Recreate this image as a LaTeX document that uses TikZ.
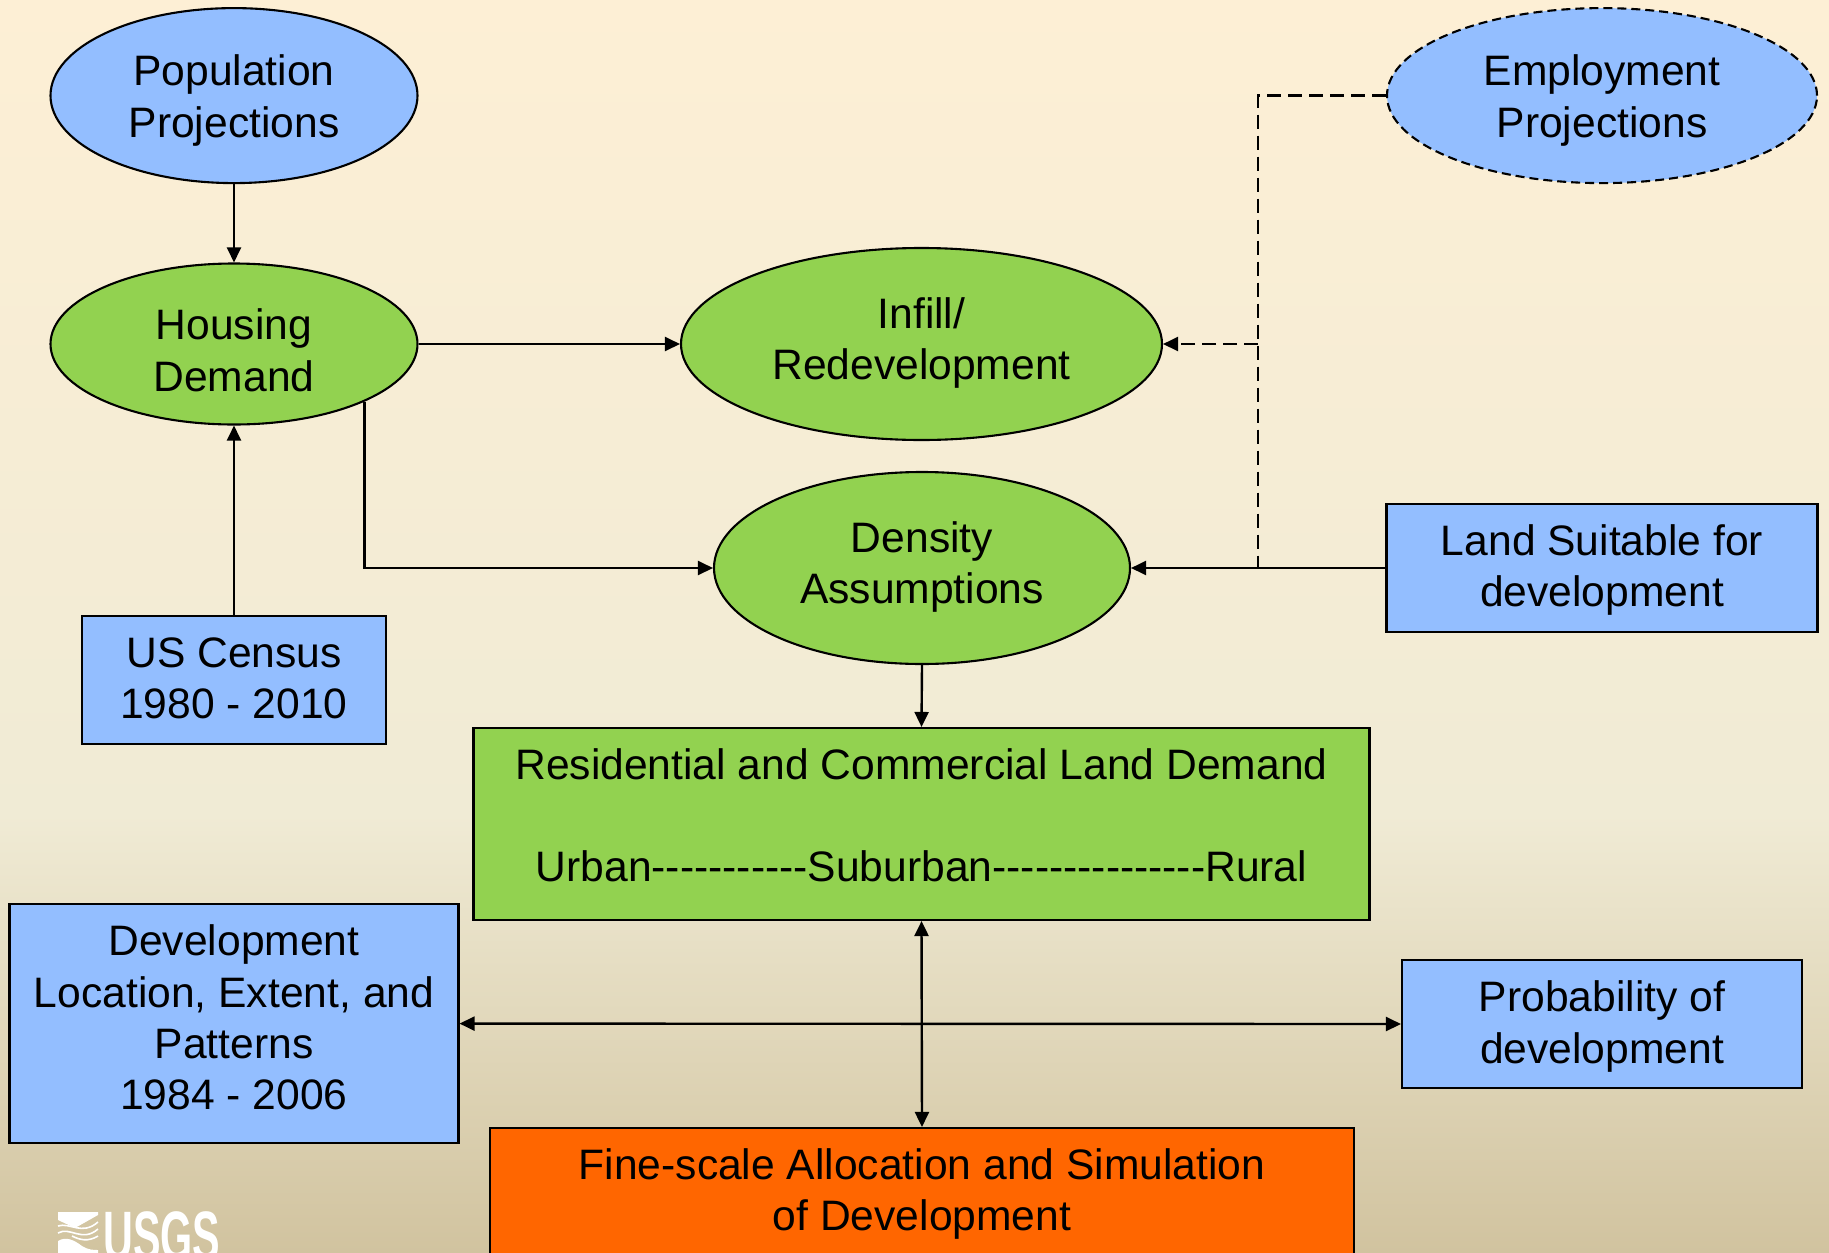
\documentclass[tikz,border=0pt]{standalone}
\usepackage{fontspec}
\setmainfont{Liberation Sans}
\newfontfamily\plainsans{Liberation Sans}
\usetikzlibrary{arrows.meta,shapes.geometric,calc}
\definecolor{bluefill}{HTML}{93BEFF}
\definecolor{greenfill}{HTML}{92D250}
\definecolor{orangefill}{HTML}{FF6600}
\definecolor{bgtop}{HTML}{FDEFD5}
\definecolor{bgmid}{HTML}{F0EBD5}
\definecolor{bgbot}{HTML}{D1C39F}
\pgfdeclareverticalshading{tanbg}{100bp}{
  color(0bp)=(bgbot); color(25bp)=(bgbot); color(42.5bp)=(bgmid); color(75bp)=(bgtop); color(100bp)=(bgtop)}
\newcommand\tx[2]{\raisebox{#1pt}[0pt][0pt]{\begin{tabular}{@{}c@{}}#2\end{tabular}}}
\tikzset{
  x=1pt,y=-1pt,
  every node/.style={font=\fontsize{42.6}{51.3}\selectfont,text=black,inner sep=0pt},
  shapebox/.style={draw=black,line width=2.1pt,rectangle},
  oval/.style={draw=black,line width=2.1pt,ellipse},
  bluefilled/.style={fill=bluefill},
  greenfilled/.style={fill=greenfill},
  link/.style={draw=black,line width=2.4pt,-{Triangle[length=15pt,width=14pt]}},
  linkboth/.style={draw=black,line width=2.4pt,{Triangle[length=15pt,width=14pt]}-{Triangle[length=15pt,width=14pt]}},
  dashlink/.style={draw=black,line width=2.6pt,dash pattern=on 14pt off 7pt},
}
\begin{document}
\begin{tikzpicture}
\useasboundingbox (0,0) rectangle (1829,1253);
\shade[shading=tanbg] (0,0) rectangle (1829,1253);
\node[oval,bluefilled,minimum width=367pt,minimum height=175pt] (pop) at (234,95.6) {\tx{-12}{Population\\Projections}};
\node[oval,bluefilled,dash pattern=on 9pt off 5pt,minimum width=430pt,minimum height=175pt] (emp) at (1602,95.6) {\tx{-12}{Employment\\Projections}};
\node[oval,greenfilled,minimum width=367pt,minimum height=161pt] (house) at (234,344) {\tx{-17.6}{Housing\\Demand}};
\node[oval,greenfilled,minimum width=481pt,minimum height=192pt] (infill) at (921.5,344) {\tx{-6}{Infill/\\Redevelopment}};
\node[oval,greenfilled,minimum width=416pt,minimum height=192pt] (dens) at (922,568) {\tx{-6}{Density\\Assumptions}};
\node[shapebox,bluefilled,minimum width=431pt,minimum height=128pt] (land) at (1602,568) {\tx{-9}{Land Suitable for\\development}};
\node[shapebox,bluefilled,minimum width=304pt,minimum height=128pt] (census) at (234,680) {\tx{-9}{US Census\\1980 - 2010}};
\node[shapebox,greenfilled,minimum width=896pt,minimum height=192pt] (res) at (921.5,824) {\tx{-2.4}{\plainsans Residential and Commercial Land Demand\\ \\\plainsans Urban-----------Suburban---------------Rural}};
\node[shapebox,bluefilled,minimum width=449pt,minimum height=239pt] (dev) at (234,1023.6) {\tx{-5}{Development\\Location, Extent, and\\Patterns\\1984 - 2006}};
\node[shapebox,bluefilled,minimum width=400pt,minimum height=128pt] (prob) at (1602,1024) {\tx{-9.5}{Probability of\\development}};
\node[shapebox,fill=orangefill,minimum width=864pt,minimum height=134pt] (fine) at (922,1195) {\tx{-6}{Fine-scale Allocation and Simulation\\of Development}};
\coordinate (jb) at (1258,568);
\draw[link] (pop.south) -- (house.north);
\draw[link] (census.north) -- (house.south);
\draw[link] (house.east) -- (infill.west);
\draw[link] (house.south east) |- (dens.west);
\draw[link] (dens.south) -- (res.north);
\draw[link] (land.west) -- (dens.east);
\draw[dashlink] (emp.west) -| (jb);
\draw[dashlink,-{Triangle[length=15pt,width=14pt]}] (infill.east -| jb) -- (infill.east);
\draw[linkboth] (res.south) -- (fine.north);
\draw[linkboth] (dev.east) -- (prob.west);
% USGS logo
\fill[white] (58,1212) -- (98,1212) -- (98,1215) -- (75,1228) -- (58,1220) -- cycle;
\fill[white] (58,1253) -- (58,1241) .. controls (66,1236) and (74,1240) .. (82,1246) .. controls (88,1250) and (94,1250) .. (98,1250) -- (98,1253) -- cycle;
\draw[white,line width=1.6pt] (58,1226) .. controls (70,1222) and (82,1236) .. (98,1222);
\draw[white,line width=1.6pt] (58,1233) .. controls (70,1226) and (82,1243) .. (98,1229);
\draw[white,line width=1.6pt] (72,1236) .. controls (80,1240) and (88,1242) .. (98,1236);
\node[anchor=north west,text=white,font=\fontsize{70}{70}\bfseries\selectfont] (logo) at (103,1211) {\scalebox{.59}[1]{USGS}};
\end{tikzpicture}
\end{document}
